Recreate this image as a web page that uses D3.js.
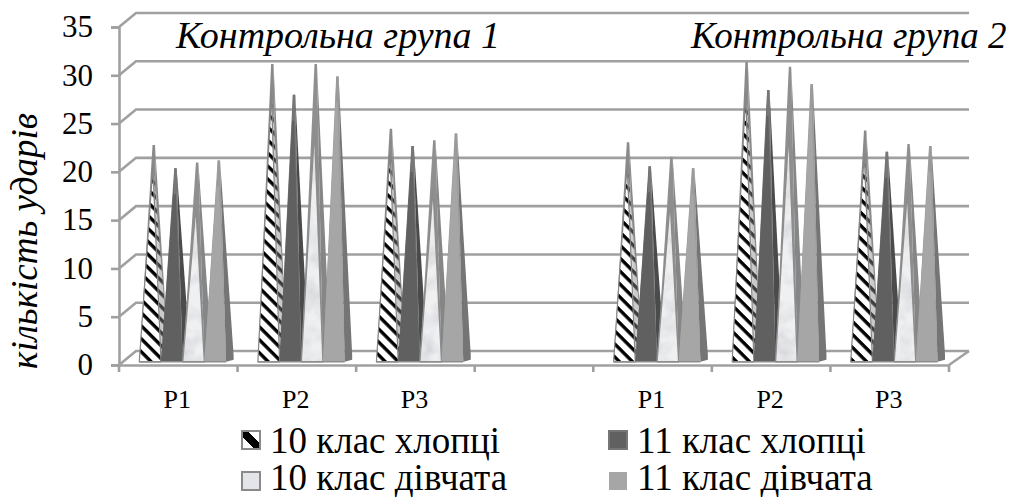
<!DOCTYPE html>
<html><head><meta charset="utf-8">
<script src="https://cdn.jsdelivr.net/npm/d3@7"></script>
<style>
html,body{margin:0;padding:0;background:#fff}
svg{display:block}
text{font-family:"Liberation Serif",serif;fill:#000}
</style></head><body><svg id="c" width="1011" height="497"></svg>
<script>
const categories = ["P1","P2","P3","","P1","P2","P3"];
const seriesNames = ["10 клас хлопці","11 клас хлопці","10 клас дівчата","11 клас дівчата"];
const boys10  = [22.1,30.5,23.8,null,22.4,30.7,23.6];
const boys11  = [19.7,27.3,22.0,null,19.9,27.8,21.4];
const girls10 = [20.3,30.5,22.6,null,20.9,30.2,22.2];
const girls11 = [20.5,29.2,23.3,null,19.7,28.4,22.0];
const yTicks = [0,5,10,15,20,25,30,35];
const groupTitles = ["Контрольна група 1","Контрольна група 2"];
const yTitle = "кількість ударів";

const seriesValues=[boys10,boys11,girls10,girls11];
const svg=d3.select("#c");
const defs=svg.append("defs");
const dx=17,dy=14;
const x=d3.scaleBand().domain(d3.range(categories.length)).range([119,949]);
const y=d3.scaleLinear().domain([0,35]).range([365,27]);

const hp=defs.append("pattern").attr("id","hatch").attr("patternUnits","userSpaceOnUse")
 .attr("width",9.2).attr("height",9.2).attr("patternTransform","rotate(45)");
hp.append("rect").attr("width",9.2).attr("height",9.2).attr("fill","#fff");
hp.append("rect").attr("width",9.2).attr("height",3.4).attr("fill","#000");

const fl=defs.append("filter").attr("id","marble").attr("x",0).attr("y",0).attr("width",1).attr("height",1);
fl.append("feTurbulence").attr("type","fractalNoise").attr("baseFrequency",0.045).attr("numOctaves",3).attr("seed",4);
fl.append("feColorMatrix").attr("type","matrix").attr("values","0 0 0 0 0.62  0 0 0 0 0.63  0 0 0 0 0.65  1.8 0 0 0 -0.72");
const mp=defs.append("pattern").attr("id","marb").attr("patternUnits","userSpaceOnUse").attr("width",300).attr("height",400);
mp.append("rect").attr("width",300).attr("height",400).attr("fill","#eff0f2");
mp.append("rect").attr("width",300).attr("height",400).attr("filter","url(#marble)");

const soft=defs.append("filter").attr("id","soft").attr("x","-10%").attr("y","-10%").attr("width","120%").attr("height","120%");
soft.append("feGaussianBlur").attr("stdDeviation",0.5);

const lh=defs.append("linearGradient").attr("id","legHatch").attr("x1",1).attr("y1",0).attr("x2",0).attr("y2",1);
[[0,"#fff"],[.34,"#fff"],[.34,"#000"],[.64,"#000"],[.64,"#fff"],[1,"#fff"]].forEach(s=>lh.append("stop").attr("offset",s[0]).attr("stop-color",s[1]));

const styles=[
 {front:"url(#hatch)",back:"#8a8a8a",side:"#8a8a8a",apex:0.9,stroke:"#858585",sw:1.2,sideHatch:true},
 {front:"#616161",back:"#777777",side:"#4b4b4b",apex:1,stroke:"none",sw:0},
 {front:"url(#marb)",back:"#8f8f8f",side:"#868686",apex:0.78,stroke:"#8c8c8c",sw:1.4},
 {front:"#a6a6a6",back:"#9a9a9a",side:"#757575",apex:1,stroke:"none",sw:0}
];

// walls and floor
const g=svg.append("g").attr("filter","url(#soft)");
const lineCol="#a0a0a0";
const walls=g.append("g").attr("stroke",lineCol).attr("stroke-width",2.6).attr("fill","none");
yTicks.forEach(t=>{
  walls.append("path").attr("d",d3.line()([[x.range()[0],y(t)],[x.range()[0]+dx,y(t)-dy],[x.range()[1]+dx+3,y(t)-dy]]));
});
walls.append("path").attr("d",d3.line()([[x.range()[1],y(0)],[x.range()[1]+dx+3,y(0)-dy]]));

// axes
const ay=g.append("g").attr("transform",`translate(${x.range()[0]},0)`)
 .call(d3.axisLeft(y).tickValues(yTicks).tickSize(8).tickFormat(d=>d));
const ax=g.append("g").attr("transform",`translate(0,${y(0)})`)
 .call(d3.axisBottom(x).tickValues([]).tickSizeOuter(0));
ax.selectAll("line.t").data(d3.range(categories.length+1)).enter().append("line")
 .attr("x1",i=>x.range()[0]+i*x.step()).attr("x2",i=>x.range()[0]+i*x.step())
 .attr("y1",0).attr("y2",7);
[ay,ax].forEach(a=>{a.selectAll("path,line").attr("stroke",lineCol).attr("stroke-width",2.6);});
ay.selectAll("text").remove();

// pyramids
const inner=d3.scaleBand().domain(d3.range(4)).range([20.3,107.1]);
const baseF=y(0)-3.2, baseB=y(0)-10, depth=7.5;
const poly=d3.line();
categories.forEach((c,ci)=>{
  if(!c) return;
  const grp=g.append("g");
  seriesValues.forEach((vals,si)=>{
    const v=vals[ci], st=styles[si];
    const x0=x(ci)+inner(si), x1=x0+inner.bandwidth();
    const ax_=x0+inner.bandwidth()/2+3.6, ay_=y(v)-6.5;
    const fy=baseF-(baseF-ay_)*st.apex;
    const fx=x0+inner.bandwidth()/2+3.0*st.apex;
    grp.append("path").attr("d",poly([[x0,baseF],[ax_-1.2,ay_],[ax_+1.2,ay_],[x1,baseF]])+"Z").attr("fill",st.back);
    grp.append("path").attr("d",poly([[x1,baseF],[ax_+1.2,ay_],[x1+depth,baseB],[x1+depth,baseF-2]])+"Z").attr("fill",st.side);
    if(st.sideHatch){
      grp.append("path").attr("d",poly([[fx+1,fy+6],[x1+depth,baseB],[x1-2,baseF]])+"Z").attr("fill","url(#hatch)").attr("opacity",0.55);
    }
    grp.append("path").attr("d",poly([[x0,baseF],[x1,baseF],[fx,fy]])+"Z")
       .attr("fill",st.front).attr("stroke",st.stroke).attr("stroke-width",st.sw).attr("stroke-linejoin","round");
    if(st.apex===1){
      grp.append("path").attr("d",poly([[fx-1.2,fy+26],[ax_-1.2,ay_],[ax_+1.2,ay_],[fx+1.6,fy+26]])+"Z").attr("fill",st.back);
    }
  });
  grp.append("line").attr("x1",x(ci)+inner(0)).attr("x2",x(ci)+inner(3)+inner.bandwidth())
    .attr("y1",baseF).attr("y2",baseF).attr("stroke","#8c8c8c").attr("stroke-width",1.4);
});

// texts
yTicks.forEach(t=>{
  svg.append("text").attr("x",93).attr("y",y(t)-0.5).attr("text-anchor","end").attr("dy","0.35em")
    .attr("font-size",31).text(t);
});
categories.forEach((c,i)=>{
  if(!c) return;
  svg.append("text").attr("x",x(i)+x.bandwidth()/2-1).attr("y",408).attr("text-anchor","middle").attr("font-size",26).text(c);
});
svg.append("text").attr("transform","translate(37,241) rotate(-90)").attr("text-anchor","middle")
  .attr("font-size",37).attr("font-style","italic").text(yTitle);
svg.append("text").attr("x",176).attr("y",48).attr("font-size",38).attr("font-style","italic").text(groupTitles[0]);
svg.append("text").attr("x",691).attr("y",48).attr("font-size",37).attr("font-style","italic").text(groupTitles[1]);

// legend
const legX=[241,608], legY=[430,471], legBase=[453,490];
const legOrder=[[0,0],[1,0],[2,1],[3,1]];
legOrder.forEach(([si,row])=>{
  const col=si%2, st=styles[si];
  const lx=legX[col], ly=legY[row];
  const sq=svg.append("g").attr("filter","url(#soft)");
  sq.append("rect").attr("x",lx+1).attr("y",ly+1).attr("width",18).attr("height",18)
    .attr("fill",si===0?"url(#legHatch)":si===2?"#e4e5e8":st.front)
    .attr("stroke",si===0||si===2?"#8a8a8a":si===1?"#767676":"none").attr("stroke-width",si===3?0:2);
  svg.append("text").attr("x",lx+29).attr("y",legBase[row]).attr("font-size",37).text(seriesNames[si]);
});
</script></body></html>
